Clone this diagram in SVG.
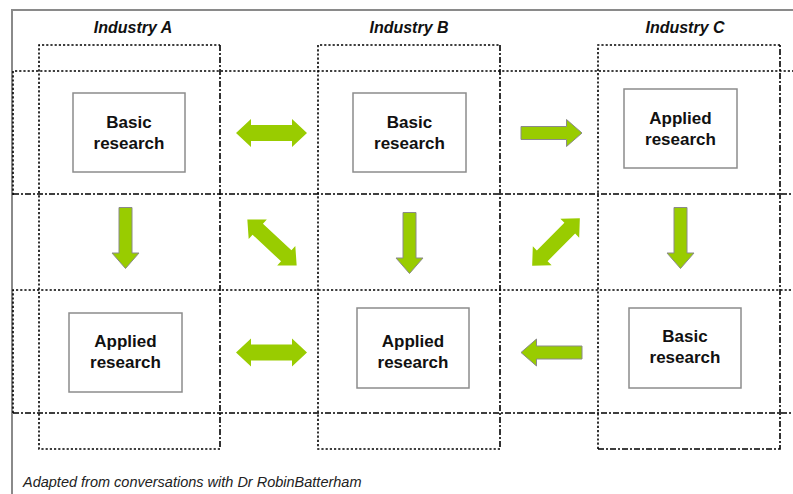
<svg xmlns="http://www.w3.org/2000/svg" width="793" height="494" viewBox="0 0 793 494">
<style>
.frame{fill:none;stroke:#8a8a8a;stroke-width:2}
.dot{fill:none;stroke:#000;stroke-width:1.6;stroke-dasharray:2.2,2}
.dd{fill:none;stroke:#000;stroke-width:1.6;stroke-dasharray:6,2,2,2}
.box{fill:#fff;stroke:#8c8c8c;stroke-width:1.5}
.lbl{font-family:"Liberation Sans",Arial,sans-serif;font-weight:bold;font-size:17px;fill:#111;text-anchor:middle}
.hdr{font-family:"Liberation Sans",Arial,sans-serif;font-weight:bold;font-style:italic;font-size:16px;fill:#111;text-anchor:middle}
.note{font-family:"Liberation Sans",Arial,sans-serif;font-style:italic;font-size:14.5px;fill:#222}
.arr{fill:#99cc00}
.arrs{fill:#99cc00;stroke:#8a8a8a;stroke-width:1}
</style>
<defs>
<polygon id="dbl" points="-35.5,0 -20.5,-14 -20.5,-8 20.5,-8 20.5,-14 35.5,0 20.5,14 20.5,8 -20.5,8 -20.5,14"/>
<polygon id="one" points="-30.5,-6.5 15,-6.5 15,-13.5 30.5,0 15,13.5 15,6.5 -30.5,6.5"/>
</defs>
<rect width="793" height="494" fill="#fff"/>
<path class="frame" d="M12,494 V10 H793"/>
<g id="grid">
<path class="dot" d="M13,195 V71 H793"/>
<path class="dd" d="M13,194 H793"/>
<path class="dot" d="M13,413 V290 H793"/>
<path class="dd" d="M13,413 H793"/>
<path class="dot" d="M220,449 H39 V45 H220"/>
<path class="dd" d="M220,45 V449"/>
<path class="dot" d="M500,449 H318 V45 H500"/>
<path class="dd" d="M500,45 V449"/>
<path class="dot" d="M780,45 H598 V449"/>
<path class="dd" d="M598,449 H780 V45"/>
</g>
<g id="headers">
<text class="hdr" x="133" y="33">Industry A</text>
<text class="hdr" x="409" y="33">Industry B</text>
<text class="hdr" x="685" y="33">Industry C</text>
</g>
<g id="a-basic">
<rect class="box" x="73" y="93" width="112" height="79"/>
<text class="lbl" x="129" y="128">Basic</text>
<text class="lbl" x="129" y="149">research</text>
</g>
<g id="b-basic">
<rect class="box" x="353" y="93" width="113" height="79"/>
<text class="lbl" x="409.5" y="128">Basic</text>
<text class="lbl" x="409.5" y="149">research</text>
</g>
<g id="c-applied">
<rect class="box" x="624" y="89" width="113" height="79"/>
<text class="lbl" x="680.5" y="124">Applied</text>
<text class="lbl" x="680.5" y="145">research</text>
</g>
<g id="a-applied">
<rect class="box" x="69" y="313" width="113" height="79"/>
<text class="lbl" x="125.5" y="347">Applied</text>
<text class="lbl" x="125.5" y="368">research</text>
</g>
<g id="b-applied">
<rect class="box" x="357" y="308" width="112" height="80"/>
<text class="lbl" x="413" y="347">Applied</text>
<text class="lbl" x="413" y="368">research</text>
</g>
<g id="c-basic">
<rect class="box" x="629" y="308" width="112" height="80"/>
<text class="lbl" x="685" y="342">Basic</text>
<text class="lbl" x="685" y="363">research</text>
</g>
<g id="connectors">
<use href="#dbl" class="arr" transform="translate(271.5,133)"/>
<use href="#one" class="arrs" transform="translate(551.5,133)"/>
<use href="#one" class="arrs" transform="translate(125.5,238) rotate(90)"/>
<use href="#one" class="arrs" transform="translate(409.5,243) rotate(90)"/>
<use href="#one" class="arrs" transform="translate(680.5,238) rotate(90)"/>
<use href="#dbl" class="arr" transform="translate(272,242.5) rotate(43) scale(0.95)"/>
<use href="#dbl" class="arr" transform="translate(556,242) rotate(-45) scale(0.95)"/>
<use href="#dbl" class="arr" transform="translate(271.5,352.5)"/>
<use href="#one" class="arrs" transform="translate(551.5,352.5) rotate(180)"/>
</g>
<text class="note" x="23" y="487">Adapted from conversations with Dr RobinBatterham</text>
</svg>
